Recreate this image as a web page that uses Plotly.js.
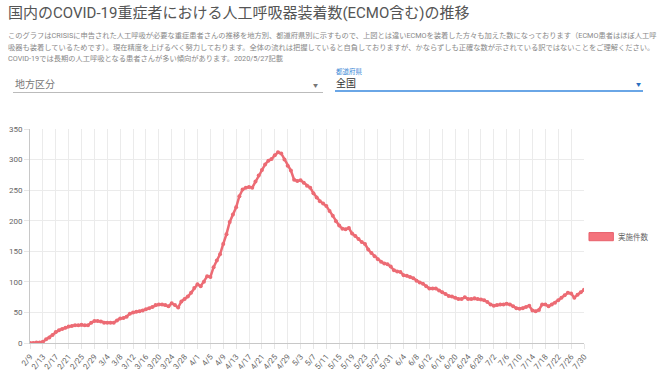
<!DOCTYPE html>
<html><head><meta charset="utf-8">
<script src="https://cdn.plot.ly/plotly-3.0.1.min.js"></script>
<style>
body{margin:0;width:660px;height:370px;overflow:hidden;position:relative;background:#fff;font-family:Roboto,"Noto Sans CJK JP",sans-serif}
.ov{position:absolute;z-index:10;white-space:nowrap;pointer-events:none}
</style></head><body>
<div id="chart" style="position:absolute;left:0;top:0;width:660px;height:370px"></div>
<div class="ov" style="left:8px;top:4px;font-size:15px;line-height:18px;color:#555">国内のCOVID-19重症者における人工呼吸器装着数(ECMO含む)の推移</div>
<div class="ov" style="left:8px;top:30px;font-size:7.25px;line-height:11.7px;color:#888">このグラフはCRISISに申告された人工呼吸が必要な重症患者さんの推移を地方別、都道府県別に示すもので、上図とは違いECMOを装着した方々も加えた数になっております（ECMO患者はほぼ人工呼<br>吸器も装着しているためです）。現在精度を上げるべく努力しております。全体の流れは把握していると自負しておりますが、かならずしも正確な数が示されている訳ではないことをご理解ください。<br>COVID-19では長期の人工呼吸となる患者さんが多い傾向があります。2020/5/27記載</div>
<div class="ov" style="left:15px;top:78px;font-size:10px;line-height:14px;color:#777">地方区分</div>
<div class="ov" style="left:13px;top:92px;width:310px;height:1px;background:#bbb"></div>
<div class="ov" style="left:313px;top:81px;font-size:5px;line-height:8px;color:#777">▼</div>
<div class="ov" style="left:336px;top:68px;font-size:6.5px;line-height:8px;color:#3a88d6">都道府県</div>
<div class="ov" style="left:336px;top:77px;font-size:10px;line-height:14px;color:#333">全国</div>
<div class="ov" style="left:335px;top:90px;width:308px;height:2px;background:#6aa6e6"></div>
<div class="ov" style="left:636px;top:80px;font-size:5px;line-height:8px;color:#2a6fc0">▼</div>
<script>
var dates = ["2/9","2/10","2/11","2/12","2/13","2/14","2/15","2/16","2/17","2/18","2/19","2/20","2/21","2/22","2/23","2/24","2/25","2/26","2/27","2/28","2/29",
"3/1","3/2","3/3","3/4","3/5","3/6","3/7","3/8","3/9","3/10","3/11","3/12","3/13","3/14","3/15","3/16","3/17","3/18","3/19","3/20","3/21","3/22","3/23","3/24","3/25","3/26","3/27","3/28","3/29","3/30","3/31",
"4/1","4/2","4/3","4/4","4/5","4/6","4/7","4/8","4/9","4/10","4/11","4/12","4/13","4/14","4/15","4/16","4/17","4/18","4/19","4/20","4/21","4/22","4/23","4/24","4/25","4/26","4/27","4/28","4/29","4/30",
"5/1","5/2","5/3","5/4","5/5","5/6","5/7","5/8","5/9","5/10","5/11","5/12","5/13","5/14","5/15","5/16","5/17","5/18","5/19","5/20","5/21","5/22","5/23","5/24","5/25","5/26","5/27","5/28","5/29","5/30","5/31",
"6/1","6/2","6/3","6/4","6/5","6/6","6/7","6/8","6/9","6/10","6/11","6/12","6/13","6/14","6/15","6/16","6/17","6/18","6/19","6/20","6/21","6/22","6/23","6/24","6/25","6/26","6/27","6/28","6/29","6/30",
"7/1","7/2","7/3","7/4","7/5","7/6","7/7","7/8","7/9","7/10","7/11","7/12","7/13","7/14","7/15","7/16","7/17","7/18","7/19","7/20","7/21","7/22","7/23","7/24","7/25","7/26","7/27","7/28","7/29","7/30"];
var counts = [0,0,1,1,2,6,9,13,18,21,23,25,27,28,29,29,30,29,29,33,36,
36,35,33,33,33,33,37,40,41,43,48,50,51,52,53,55,57,59,62,63,63,62,60,65,62,58,68,72,76,82,90,
96,93,100,109,108,124,135,145,162,178,198,210,222,240,251,254,255,254,264,274,283,292,298,301,307,312,310,300,290,282,
267,265,266,262,257,254,245,238,232,228,224,216,208,199,192,187,186,188,179,175,170,165,162,153,147,142,137,133,130,129,125,
119,117,116,111,110,108,106,102,99,97,93,89,89,89,86,83,80,77,76,74,72,72,75,72,72,73,72,71,70,67,
63,61,62,63,63,64,63,60,57,56,57,59,61,53,52,54,63,63,60,63,66,70,74,78,82,81,74,79,83,87];
var seriesName = "実施件数";
var yTicks = [0,50,100,150,200,250,300,350];
var xTicks = dates.filter(function(d,i){return i%4===0;});

var col = "#ec6b74";
var trace = {x: dates, y: counts, type: "scatter", mode: "lines+markers", name: seriesName,
  line: {color: col, width: 2.5}, marker: {color: col, size: 4}, showlegend: false, hoverinfo: "x+y"};
var layout = {
  width: 660, height: 370,
  margin: {l: 30, r: 76, t: 129, b: 27},
  paper_bgcolor: "#fff", plot_bgcolor: "#fff",
  font: {family: "Roboto, 'Noto Sans CJK JP', sans-serif", color: "#666", size: 8},
  xaxis: {type: "category", range: [0, dates.length - 1], tickvals: xTicks, ticktext: xTicks,
    tickangle: -50, tickfont: {size: 8, color: "#666"}, showgrid: true, gridcolor: "#ebebeb",
    showline: true, linecolor: "#c8c8c8", ticks: "outside", ticklen: 5, tickcolor: "#e6e6e6",
    automargin: false, zeroline: false},
  yaxis: {range: [0, 350], tickvals: yTicks, tickfont: {size: 8, color: "#666"}, showgrid: true,
    gridcolor: "#ebebeb", showline: true, linecolor: "#c8c8c8", ticks: "outside", ticklen: 5,
    tickcolor: "#e6e6e6", automargin: false, zeroline: false},
  shapes: [{type: "rect", xref: "paper", yref: "paper", x0: 1.009, x1: 1.053, y0: 0.478, y1: 0.516,
    fillcolor: "#f4737c", line: {color: "#e8606b", width: 1}}],
  annotations: [{xref: "paper", yref: "paper", x: 1.058, y: 0.497, xanchor: "left", yanchor: "middle",
    text: seriesName, showarrow: false, font: {size: 7.5, color: "#666"}}]
};
Plotly.newPlot("chart", [trace], layout, {displayModeBar: false, staticPlot: true});
</script>
</body></html>
